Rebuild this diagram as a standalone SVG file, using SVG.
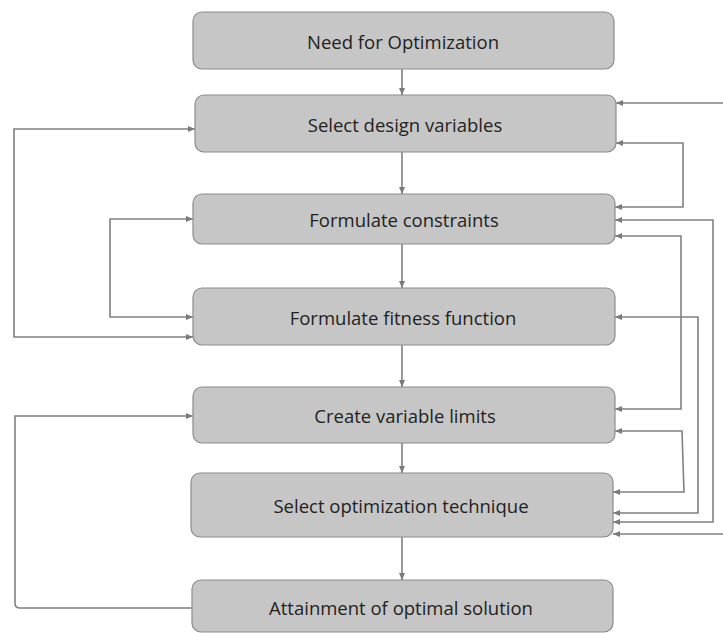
<svg xmlns="http://www.w3.org/2000/svg" width="723" height="633" viewBox="0 0 723 633">
  <defs>
    <marker id="arrow" markerWidth="7" markerHeight="6" refX="7" refY="3" orient="auto-start-reverse" markerUnits="userSpaceOnUse">
      <path d="M0,0 L7,3 L0,6 z" fill="#7a7a7a"/>
    </marker>
    <style>
      .box rect { fill: #c6c6c6; stroke: #8c8c8c; stroke-width: 1.2; }
      .box text { font-family: "Open Sans", "Liberation Sans", sans-serif; font-size: 18.5px; fill: #222222; text-anchor: middle; dominant-baseline: central; }
      .conn path { fill: none; stroke: #808080; stroke-width: 1.6; }
      .end { marker-end: url(#arrow); }
      .both { marker-start: url(#arrow); marker-end: url(#arrow); }
    </style>
  </defs>
  <rect width="723" height="633" fill="#ffffff"/>

  <g id="connectors" class="conn">
    <!-- main downward flow -->
    <path class="end" d="M402,69 V95"/>
    <path class="end" d="M402,152 V194"/>
    <path class="end" d="M402,244 V288"/>
    <path class="end" d="M402,345 V387"/>
    <path class="end" d="M402,443 V473"/>
    <path class="end" d="M402,537 V580"/>

    <!-- left-side feedback loops -->
    <path class="both" d="M195,129 H14 V337 H193"/>
    <path class="both" d="M193,219 H110 V317 H193"/>
    <path class="end" d="M192,608 H20 Q15,608 15,603 V416 H193"/>

    <!-- right-side feedback loops -->
    <path class="end" d="M723,103 H616"/>
    <path class="both" d="M616,143 H683 V207 H615"/>
    <path class="both" d="M615,220 H713 V522 H613"/>
    <path class="both" d="M615,236 H681 V409 H615"/>
    <path class="both" d="M615,317 H698 V513 H613"/>
    <path class="both" d="M615,431 H682 L684,492 H613"/>
    <path class="end" d="M723,534 H613"/>
  </g>

  <g id="need" class="box">
    <rect x="193" y="12" width="421" height="57" rx="9"/>
    <text x="403" y="41">Need for Optimization</text>
  </g>
  <g id="design-variables" class="box">
    <rect x="195" y="95" width="421" height="57" rx="9"/>
    <text x="405" y="124">Select design variables</text>
  </g>
  <g id="constraints" class="box">
    <rect x="193" y="194" width="422" height="50" rx="9"/>
    <text x="404" y="219">Formulate constraints</text>
  </g>
  <g id="fitness" class="box">
    <rect x="193" y="288" width="422" height="57" rx="9"/>
    <text x="403" y="317">Formulate fitness function</text>
  </g>
  <g id="limits" class="box">
    <rect x="193" y="387" width="422" height="56" rx="9"/>
    <text x="405" y="415">Create variable limits</text>
  </g>
  <g id="technique" class="box">
    <rect x="191" y="473" width="422" height="64" rx="9"/>
    <text x="401" y="505">Select optimization technique</text>
  </g>
  <g id="solution" class="box">
    <rect x="192" y="580" width="421" height="52" rx="9"/>
    <text x="401" y="607">Attainment of optimal solution</text>
  </g>
</svg>
